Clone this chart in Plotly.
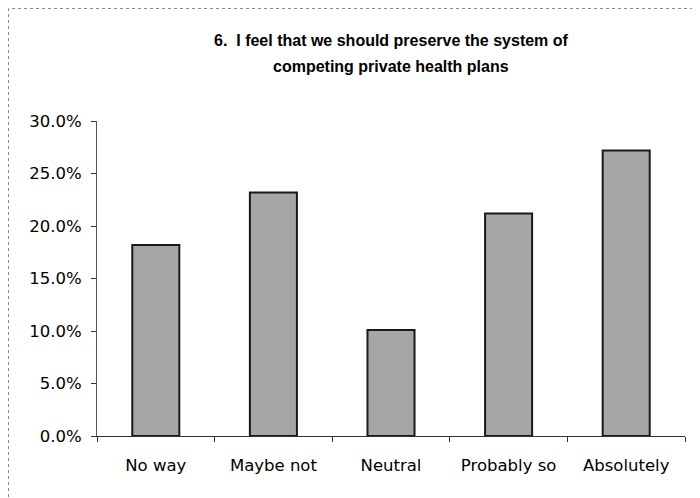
import plotly.graph_objects as go

categories = ['No way', 'Maybe not', 'Neutral', 'Probably so', 'Absolutely']
shares = [18.2, 23.2, 10.1, 21.2, 27.2]
y_ticks = [0, 5, 10, 15, 20, 25, 30]
y_labels = ['%.1f%%' % v for v in y_ticks]

title_lines = ['6.  I feel that we should preserve the system of',
               'competing private health plans']

fig = go.Figure()
fig.add_trace(go.Bar(
    x=categories,
    y=shares,
    width=0.4,
    marker={'color': '#a6a6a6',
            'line': {'color': '#1a1a1a', 'width': 2}},
))

# the page body adds an 8px offset, so the figure is kept 8px smaller
fig.update_layout(
    width=692, height=490,
    margin={'l': 89, 'r': 15, 't': 113, 'b': 62},
    paper_bgcolor='white',
    plot_bgcolor='white',
    showlegend=False,
    font={'family': 'DejaVu Sans', 'size': 16.5, 'color': '#000000'},
    xaxis={
        'showline': True, 'linecolor': '#333333', 'linewidth': 1,
        'ticks': 'outside', 'tickson': 'boundaries', 'ticklen': 5,
        'tickcolor': '#333333', 'showgrid': False,
        'ticklabelstandoff': 14,
    },
    yaxis={
        'range': [0, 30], 'tickvals': y_ticks, 'ticktext': y_labels,
        'showline': True, 'linecolor': '#555555', 'linewidth': 1,
        'ticks': 'outside', 'ticklen': 5, 'tickcolor': '#333333',
        'showgrid': False, 'zeroline': False,
        'ticklabelstandoff': 6,
    },
)

# title as two separate lines for wider spacing
for i, line in enumerate(title_lines):
    fig.add_annotation(text='<b>%s</b>' % line, xref='paper', yref='paper',
                       x=0.5, y=1 + (81 - 27 * i) / 315.0,
                       xanchor='center', yanchor='middle', showarrow=False,
                       font={'family': 'Liberation Sans', 'size': 16,
                             'color': '#000000'})

# thin frame around the whole chart area (right/bottom edges fall outside)
fig.add_shape(type='rect', xref='paper', yref='paper',
              x0=-88.5 / 588.0, x1=1 + 30 / 588.0, y0=-80 / 315.0, y1=1 + 112.5 / 315.0,
              line={'color': '#888888', 'width': 1, 'dash': 'dot'})

fig.write_html("out.html")
